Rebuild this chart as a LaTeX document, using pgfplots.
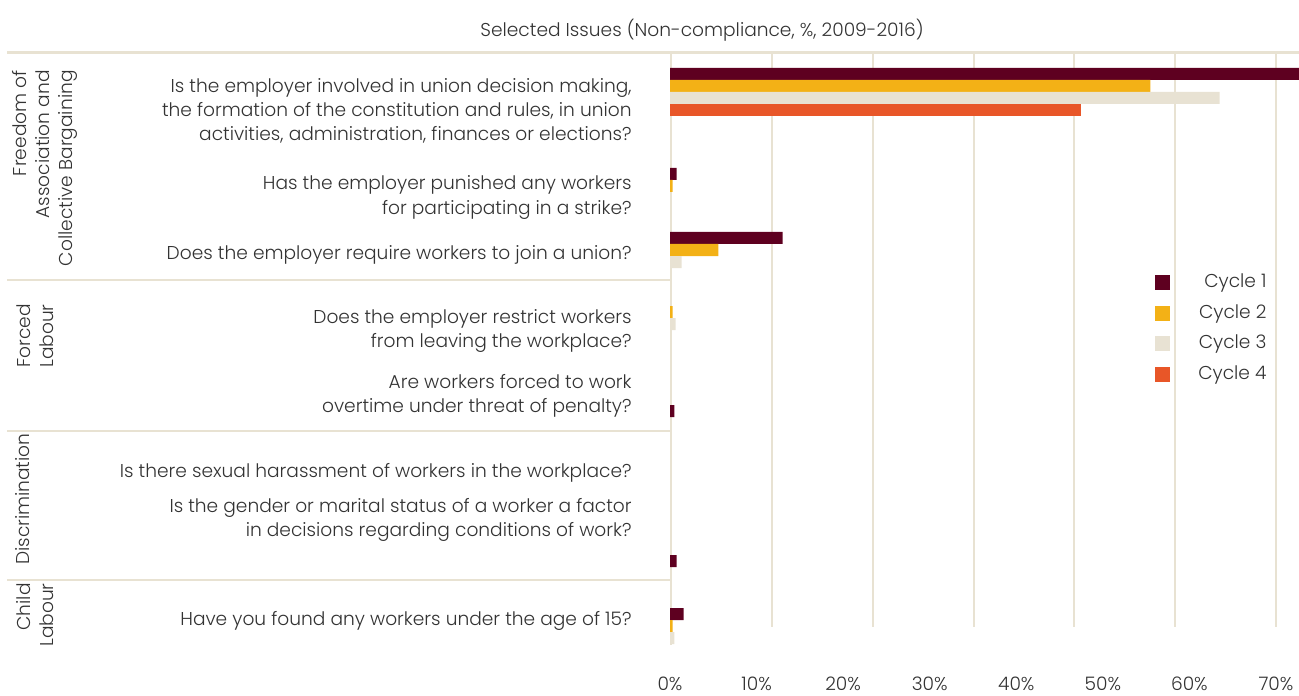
\documentclass[border=0pt]{standalone}
\usepackage{pgfplots}
\pgfplotsset{compat=1.18}
\usepackage{fontspec}
\setmainfont{Poppins}[UprightFont=* Light]

\definecolor{cyc1}{HTML}{5E0020}
\definecolor{cyc2}{HTML}{F3B116}
\definecolor{cyc3}{HTML}{E8E2D3}
\definecolor{cyc4}{HTML}{E85628}
\definecolor{linec}{HTML}{E8E2D2}
\definecolor{txt}{HTML}{333333}

\begin{document}
\begin{tikzpicture}[x=0.5pt,y=-0.5pt,
  font=\fontsize{9.3}{11.5}\selectfont, every node/.style={text=txt}]
\path[use as bounding box] (0,0) rectangle (1299,695);

% frame lines and grid (pixel coordinates)
\draw[linec, line width=1.5pt] (7,53) -- (1299,53);
\foreach \y in {280,431,580} \draw[linec, line width=1.3pt] (7,\y) -- (670,\y);
\draw[linec, line width=1pt] (671,53) -- (671,645);
\foreach \x in {772,873,974,1074,1175,1276} \draw[linec, line width=1pt] (\x,53) -- (\x,627);

% title
\node[anchor=base] at (702,37) {Selected Issues (Non-compliance, \%, 2009-2016)};

% group labels
\node[rotate=90, anchor=east, align=right, inner sep=0pt] at (45,70) {Freedom of\\Association and\\Collective Bargaining};
\node[rotate=90, anchor=east, align=right, inner sep=0pt] at (35,304) {Forced\\Labour};
\node[rotate=90, anchor=east, align=right, inner sep=0pt] at (23,433) {Discrimination};
\node[rotate=90, anchor=east, align=right, inner sep=0pt] at (35,583) {Child\\Labour};

% questions
\begin{scope}[every node/.append style={anchor=base east, inner sep=0pt}]
\node at (632,93) {Is the employer involved in union decision making,};
\node at (632,117) {the formation of the constitution and rules, in union};
\node at (632,141) {activities, administration, finances or elections?};
\node at (632,190) {Has the employer punished any workers};
\node at (632,214) {for participating in a strike?};
\node at (632,259) {Does the employer require workers to join a union?};
\node at (632,323) {Does the employer restrict workers};
\node at (632,347) {from leaving the workplace?};
\node at (632,388) {Are workers forced to work};
\node at (632,412) {overtime under threat of penalty?};
\node at (632,477) {Is there sexual harassment of workers in the workplace?};
\node at (632,512) {Is the gender or marital status of a worker a factor};
\node at (632,536) {in decisions regarding conditions of work?};
\node at (632,625) {Have you found any workers under the age of 15?};
\end{scope}

\coordinate (O) at (670,53);
\begin{axis}[
  at={(O)}, anchor=north west,
  scale only axis, width=314.5pt, height=296pt,
  xmin=0, xmax=72.66, ymin=-645, ymax=-53,
  axis line style={draw=none}, tick style={draw=none},
  major tick length=0pt,
  ytick=\empty,
  xtick={0,10,...,70},
  xticklabels={0\%,10\%,20\%,30\%,40\%,50\%,60\%,70\%},
  xticklabel style={anchor=base, yshift=-22.5pt, inner sep=0pt},
  xbar, bar width=12, bar shift=0pt,
  legend image code/.code={\fill[#1] (0pt,-3.75pt) rectangle (7.5pt,3.75pt);},
  legend cell align=right,
  legend style={at={(rel axis cs:0.949,0.628)}, anchor=north east,
    draw=none, fill=none, inner sep=0pt,
    nodes={inner sep=0pt, text height=7pt, text depth=2pt},
    row sep=6.25pt, column sep=14pt},
]
\addplot[fill=cyc1, draw=none] coordinates {
  (80,-74) (0.75,-174) (13.0,-238) (0.5,-411) (0.75,-561) (1.56,-614)};
\addplot[fill=cyc2, draw=none] coordinates {
  (55.5,-86) (0.3,-186) (5.6,-250) (0.3,-312) (0.3,-626)};
\addplot[fill=cyc3, draw=none] coordinates {
  (63.5,-98) (1.33,-262) (0.64,-324) (0.5,-638)};
\addplot[fill=cyc4, draw=none] coordinates {
  (47.5,-110)};
\legend{Cycle 1,Cycle 2,Cycle 3,Cycle 4}
\end{axis}
\end{tikzpicture}
\end{document}
